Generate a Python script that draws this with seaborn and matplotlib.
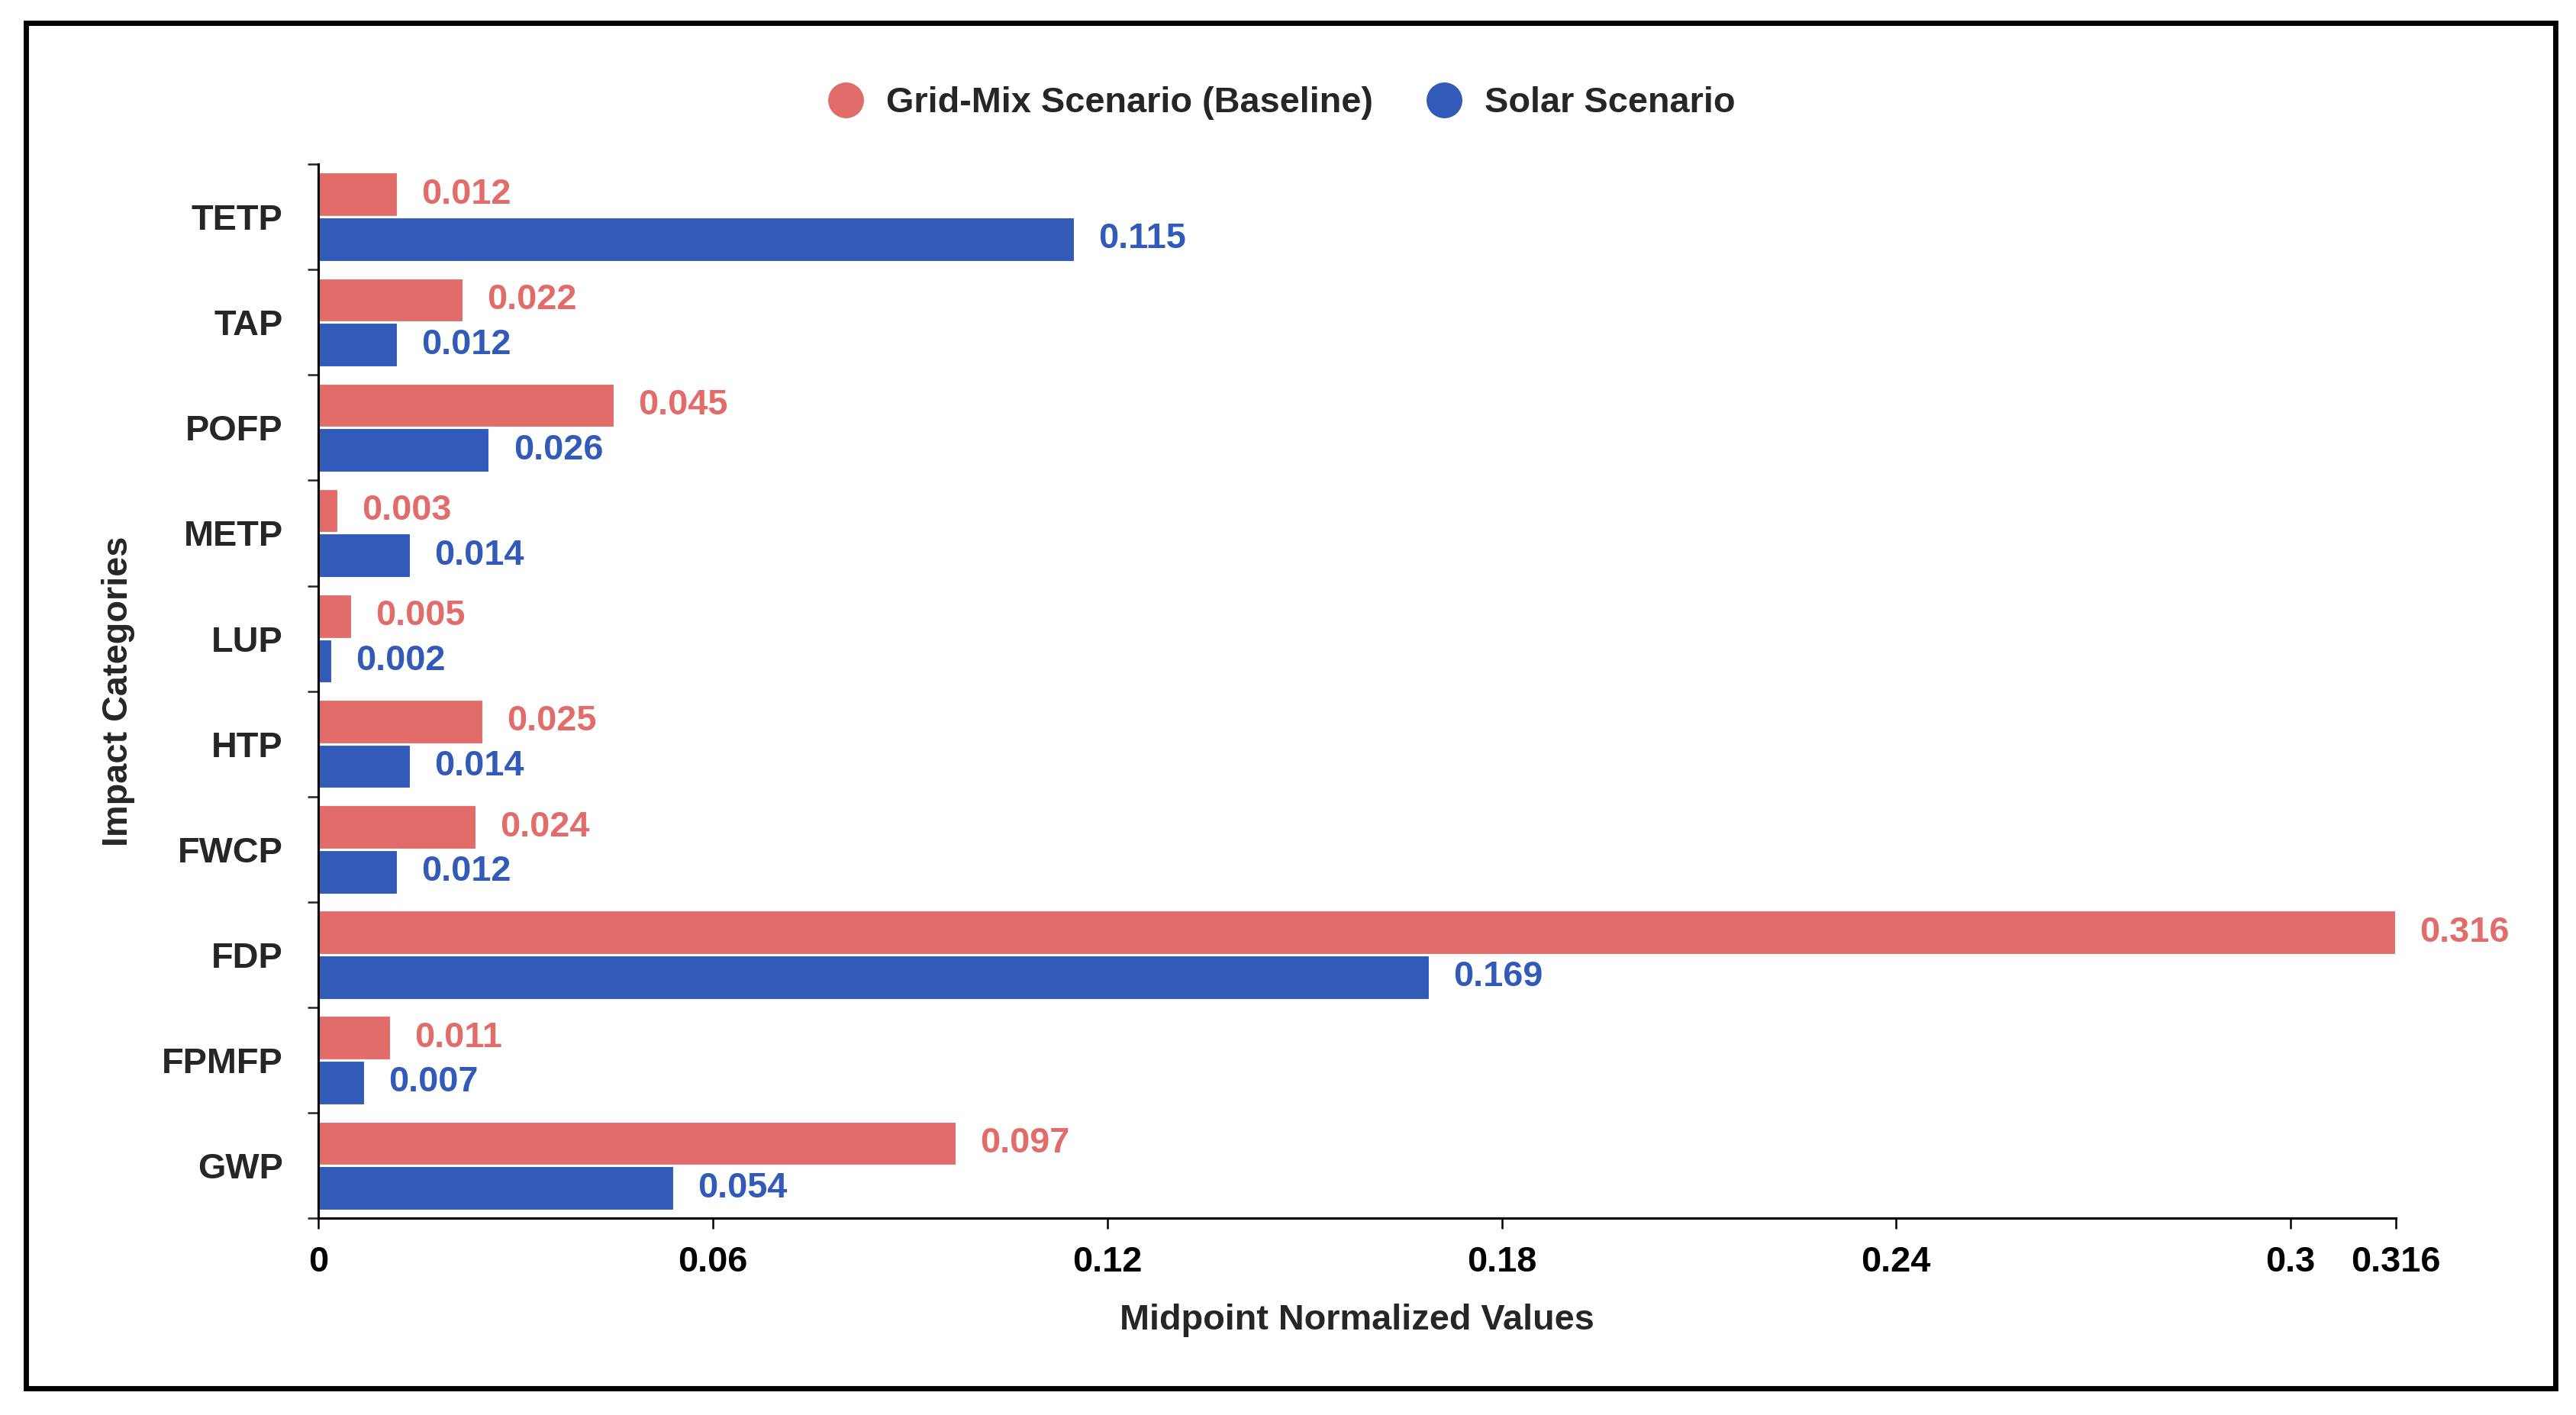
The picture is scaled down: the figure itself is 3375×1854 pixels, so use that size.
import numpy as np
import pandas as pd
import matplotlib
matplotlib.use("Agg")
import matplotlib.pyplot as plt
from matplotlib.lines import Line2D
from matplotlib.patches import Rectangle
import seaborn as sns

# Data
categories = ["TETP", "TAP", "POFP", "METP", "LUP", "HTP", "FWCP", "FDP", "FPMFP", "GWP"]
grid_mix = [0.012, 0.022, 0.045, 0.003, 0.005, 0.025, 0.024, 0.316, 0.011, 0.097]
solar = [0.115, 0.012, 0.026, 0.014, 0.002, 0.014, 0.012, 0.169, 0.007, 0.054]
series_names = ["Grid-Mix Scenario (Baseline)", "Solar Scenario"]
x_ticks = [0, 0.06, 0.12, 0.18, 0.24, 0.3, 0.316]
x_tick_labels = ["0", "0.06", "0.12", "0.18", "0.24", "0.3", "0.316"]

red = "#E16C6A"
blue = "#315AB9"
fs = 15

df = pd.DataFrame({
    "category": categories * 2,
    "value": grid_mix + solar,
    "scenario": [series_names[0]] * len(categories) + [series_names[1]] * len(categories),
})

sns.set_style("white")
plt.rcParams["font.family"] = ["Liberation Sans", "DejaVu Sans"]
plt.rcParams["font.weight"] = "bold"

fig = plt.figure(figsize=(15, 8.24), dpi=225)
ax = fig.add_axes([0.1237, 0.139, 0.930 - 0.1237, 0.884 - 0.139])

sns.barplot(data=df, y="category", x="value", hue="scenario", orient="h",
            palette=[red, blue], width=0.85, saturation=1, legend=False, ax=ax)

# value labels
for cont, col in zip(ax.containers, [red, blue]):
    ax.bar_label(cont, fmt="%.3f", padding=10, color=col, fontsize=fs, fontweight="bold")

ax.set_xlim(0, 0.316)
ax.set_ylim(9.5, -0.5)
ax.set_xticks(x_ticks)
ax.set_xticklabels(x_tick_labels)
ax.set_yticks(np.arange(-0.5, 10, 1), minor=True)

ax.tick_params(axis="x", which="major", length=4.5, width=0.8, direction="out",
               pad=7, labelsize=fs, colors="black", bottom=True)
ax.tick_params(axis="y", which="major", length=0, pad=15, labelsize=fs)
ax.tick_params(axis="y", which="minor", length=4.5, width=0.8, direction="out", left=True)
for lbl in ax.get_xticklabels() + ax.get_yticklabels():
    lbl.set_fontweight("bold")

sns.despine(ax=ax, top=True, right=True)
for side in ["left", "bottom"]:
    ax.spines[side].set_color("black")
    ax.spines[side].set_linewidth(1.0)

ax.set_xlabel("Midpoint Normalized Values", fontsize=fs, fontweight="bold")
ax.set_ylabel("Impact Categories", fontsize=fs, fontweight="bold")
ax.xaxis.set_label_coords(0.5, -0.097)
ax.xaxis.label.set_va("center")
ax.yaxis.set_label_coords(-0.0965, 0.5)
ax.yaxis.label.set_va("center")

handles = [Line2D([0], [0], marker="o", linestyle="", markersize=14,
                  markerfacecolor=c, markeredgecolor=c) for c in [red, blue]]
fig.legend(handles, series_names, loc="center", bbox_to_anchor=(0.494, 0.927),
           ncol=2, frameon=False, prop={"size": fs, "weight": "bold"},
           handletextpad=0.12, columnspacing=1.0)

# outer frame
fig.patches.append(Rectangle((0.010, 0.019), 0.982, 0.965, transform=fig.transFigure,
                             fill=False, edgecolor="black", linewidth=2.2))

fig.savefig("out.png", dpi=225)
